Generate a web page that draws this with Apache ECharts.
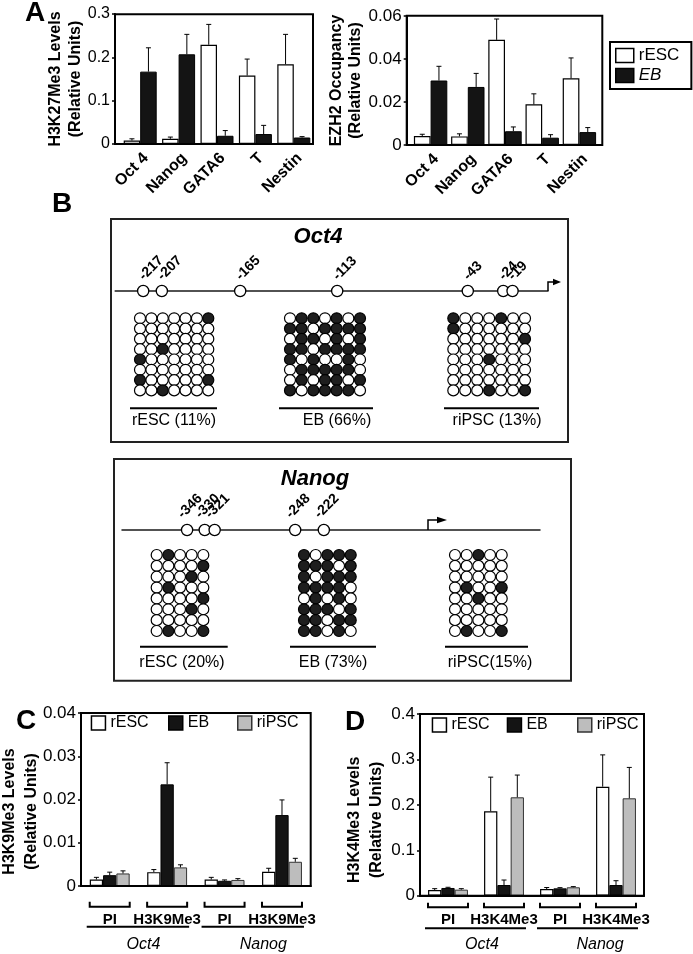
<!DOCTYPE html>
<html>
<head>
<meta charset="utf-8">
<script src="https://cdn.jsdelivr.net/npm/echarts@6/dist/echarts.min.js"></script>
<style>html,body{margin:0;padding:0;background:#fff;}#chart{width:693px;height:954px;}</style>
</head>
<body>
<div id="chart"></div>
<script>
const FONT = "'Liberation Sans', Arial, Helvetica, sans-serif";

// ---------- Panel A ----------
const catsA = ['Oct 4', 'Nanog', 'GATA6', 'T', 'Nestin'];
const ticksA1 = [0, 0.1, 0.2, 0.3];
const h3k27_rESC = [0.008, 0.012, 0.229, 0.158, 0.184];
const h3k27_rESC_err = [0.004, 0.004, 0.047, 0.038, 0.069];
const h3k27_EB = [0.167, 0.207, 0.019, 0.023, 0.015];
const h3k27_EB_err = [0.055, 0.046, 0.012, 0.020, 0.002];
const ticksA2 = [0, 0.02, 0.04, 0.06];
const ezh2_rESC = [0.0042, 0.0040, 0.0489, 0.0189, 0.0310];
const ezh2_rESC_err = [0.0008, 0.0012, 0.0097, 0.0049, 0.0095];
const ezh2_EB = [0.0300, 0.0270, 0.0064, 0.0034, 0.0060];
const ezh2_EB_err = [0.0066, 0.0063, 0.0020, 0.0014, 0.0021];

// ---------- Panel B ----------
const oct4Sites = [-217, -207, -165, -113, -43, -24, -19];
const nanogSites = [-346, -330, -321, -248, -222];
const oct4_rESC = ['0000001','0000000','0000000','0010000','1000000','0000000','1000001','0010000'];
const oct4_EB = ['0110101','1101111','0110101','1101111','1010010','0111110','0101101','1011110'];
const oct4_riPSC = ['1000100','1000000','0000001','0000000','0001000','0000000','0000000','0001001'];
const nanog_rESC = ['01000','00001','00010','01000','00001','00010','00000','01001'];
const nanog_EB = ['10111','11101','10111','11110','01010','11101','11011','11010'];
const nanog_riPSC = ['00100','00000','00000','01001','00100','00000','00000','01001'];

// ---------- Panel C ----------
const catsC = ['PI', 'H3K9Me3', 'PI', 'H3K9Me3'];
const genesCD = ['Oct4', 'Nanog'];
const ticksC = [0, 0.01, 0.02, 0.03, 0.04];
const h3k9_rESC = [0.0015, 0.0032, 0.0015, 0.0033];
const h3k9_rESC_err = [0.0005, 0.0006, 0.0005, 0.0008];
const h3k9_EB = [0.0025, 0.0235, 0.0012, 0.0164];
const h3k9_EB_err = [0.0007, 0.0050, 0.0002, 0.0035];
const h3k9_riPSC = [0.0029, 0.0043, 0.0014, 0.0056];
const h3k9_riPSC_err = [0.0006, 0.0006, 0.0003, 0.0008];

// ---------- Panel D ----------
const catsD = ['PI', 'H3K4Me3', 'PI', 'H3K4Me3'];
const ticksD = [0, 0.1, 0.2, 0.3, 0.4];
const h3k4_rESC = [0.0125, 0.186, 0.0147, 0.240];
const h3k4_rESC_err = [0.0030, 0.075, 0.0033, 0.070];
const h3k4_EB = [0.0170, 0.0235, 0.0162, 0.0235];
const h3k4_EB_err = [0.0015, 0.0110, 0.0015, 0.0095];
const h3k4_riPSC = [0.0133, 0.2166, 0.0185, 0.2144];
const h3k4_riPSC_err = [0.0022, 0.0490, 0.0015, 0.0680];

// ---------- styles ----------
const STY = {
  rESC: {color: '#ffffff', borderColor: '#000', borderWidth: 1.2},
  EB: {color: '#141414', borderColor: '#000', borderWidth: 1},
  riPSC: {color: '#bdbdbd', borderColor: '#333', borderWidth: 1}
};

const chart = echarts.init(document.getElementById('chart'), null, {renderer: 'canvas', width: 693, height: 954});

const grids = [
  {left: 121, top: 14, width: 192, height: 130},        // 0 A left
  {left: 412, top: 16, width: 186, height: 129},        // 1 A right
  {left: 115.2, top: 291, width: 432.8, height: 20},    // 2 Oct4 CpG line
  {left: 140, top: 318.3, width: 68.3, height: 72.1},   // 3
  {left: 290, top: 318.3, width: 70, height: 72.1},     // 4
  {left: 453.3, top: 318.3, width: 71.7, height: 72.1}, // 5
  {left: 122, top: 530, width: 418, height: 20},        // 6 Nanog CpG line
  {left: 156.7, top: 555, width: 46.6, height: 76},     // 7
  {left: 304, top: 555, width: 46.7, height: 76},       // 8
  {left: 455, top: 555, width: 46.7, height: 76},       // 9
  {left: 81, top: 713, width: 229.7, height: 173},      // 10 C
  {left: 420, top: 714, width: 224, height: 181.7}      // 11 D
].map(g => Object.assign({outerBoundsMode: 'none', containLabel: false}, g));

function fmtTick(ticks) {
  return v => ticks.some(t => Math.abs(t - v) < 1e-9) ? (v === 0 ? '0' : String(+v.toFixed(4))) : '';
}
function valY(gi, ticks, name, o) {
  return {
    gridIndex: gi, type: 'value', min: ticks[0], max: ticks[ticks.length - 1], interval: ticks[1] - ticks[0],
    offset: o.offset || 0,
    axisLine: {show: true, onZero: false, lineStyle: {color: '#000', width: 2}},
    axisTick: {show: true, length: 3, lineStyle: {color: '#000', width: 1.5}},
    splitLine: {show: false},
    axisLabel: {fontSize: o.ls, color: '#000', fontFamily: FONT, margin: 5, formatter: fmtTick(ticks)},
    name: name, nameLocation: 'middle', nameRotate: 90, nameGap: o.gap, nameMoveOverlap: false,
    nameTextStyle: {fontSize: 16, fontWeight: 'bold', color: '#000', fontFamily: FONT, lineHeight: o.lh, padding: o.pad || 0}
  };
}
function catX(gi, cats, o) {
  return {
    gridIndex: gi, type: 'category', data: cats.map((c, i) => 'c' + i),
    axisLine: {show: true, onZero: false, lineStyle: {color: '#000', width: 2}},
    axisTick: {show: false}, splitLine: {show: false},
    axisLabel: Object.assign({interval: 0, color: '#000', fontFamily: FONT, formatter: (v, i) => cats[i]}, o)
  };
}
function hidX(gi, min, max, showLine) {
  return {gridIndex: gi, type: 'value', min: min, max: max, position: 'top',
    axisLine: {show: !!showLine, onZero: false, lineStyle: {color: '#1a1a1a', width: 1.5}},
    axisTick: {show: false}, axisLabel: {show: false}, splitLine: {show: false}};
}
function hidY(gi, min, max) {
  return {gridIndex: gi, type: 'value', min: min, max: max, inverse: true, show: false, splitLine: {show: false}};
}

const xAxis = [
  catX(0, catsA, {rotate: 45, fontSize: 16, fontWeight: 'bold', margin: 6, verticalAlign: 'top'}),
  catX(1, catsA, {rotate: 45, fontSize: 16, fontWeight: 'bold', margin: 6, verticalAlign: 'top'}),
  hidX(2, -232, 0, true),
  hidX(3, 0, 6), hidX(4, 0, 6), hidX(5, 0, 6),
  hidX(6, -405, -26, true),
  hidX(7, 0, 4), hidX(8, 0, 4), hidX(9, 0, 4),
  catX(10, catsC, {fontSize: 15, fontWeight: 'bold', margin: 26}),
  catX(11, catsD, {fontSize: 15, fontWeight: 'bold', margin: 17})
];
const yAxis = [
  valY(0, ticksA1, 'H3K27Me3 Levels\n(Relative Units)', {ls: 16, gap: 29, lh: 20, offset: 6}),
  valY(1, ticksA2, 'EZH2 Occupancy\n(Relative Units)', {ls: 17, gap: 42, lh: 19, offset: 5.3}),
  hidY(2, 0, 1),
  hidY(3, 0, 7), hidY(4, 0, 7), hidY(5, 0, 7),
  hidY(6, 0, 1),
  hidY(7, 0, 7), hidY(8, 0, 7), hidY(9, 0, 7),
  valY(10, ticksC, 'H3K9Me3 Levels\n(Relative Units)', {ls: 17, gap: 38, lh: 22, pad: [0, 24, 0, 0]}),
  valY(11, ticksD, 'H3K4Me3 Levels\n(Relative Units)', {ls: 17, gap: 32, lh: 22, pad: [0, 30, 0, 0]})
];

const series = [];
function bars(gi, name, vals, errs, idx, n, bw) {
  series.push({type: 'bar', name: name, xAxisIndex: gi, yAxisIndex: gi, data: vals, barWidth: bw, barGap: '0%',
    itemStyle: STY[name], silent: true, z: 2});
  series.push({type: 'custom', name: name + '_err', xAxisIndex: gi, yAxisIndex: gi, silent: true, z: 4,
    data: vals.map((v, i) => [i, v, v + errs[i]]),
    renderItem: function (params, api) {
      const c = api.coord([api.value(0), api.value(1)]);
      const t = api.coord([api.value(0), api.value(2)]);
      const x = c[0] + (idx - (n - 1) / 2) * bw;
      return {type: 'group', children: [
        {type: 'line', shape: {x1: x, y1: c[1], x2: x, y2: t[1]}, style: {stroke: '#000', lineWidth: 1}},
        {type: 'line', shape: {x1: x - 2.5, y1: t[1], x2: x + 2.5, y2: t[1]}, style: {stroke: '#000', lineWidth: 1}}
      ]};
    }
  });
}
bars(0, 'rESC', h3k27_rESC, h3k27_rESC_err, 0, 2, 16.5);
bars(0, 'EB', h3k27_EB, h3k27_EB_err, 1, 2, 16.5);
bars(1, 'rESC', ezh2_rESC, ezh2_rESC_err, 0, 2, 16.7);
bars(1, 'EB', ezh2_EB, ezh2_EB_err, 1, 2, 16.7);
bars(10, 'rESC', h3k9_rESC, h3k9_rESC_err, 0, 3, 13.3);
bars(10, 'EB', h3k9_EB, h3k9_EB_err, 1, 3, 13.3);
bars(10, 'riPSC', h3k9_riPSC, h3k9_riPSC_err, 2, 3, 13.3);
bars(11, 'rESC', h3k4_rESC, h3k4_rESC_err, 0, 3, 13.3);
bars(11, 'EB', h3k4_EB, h3k4_EB_err, 1, 3, 13.3);
bars(11, 'riPSC', h3k4_riPSC, h3k4_riPSC_err, 2, 3, 13.3);

// CpG sites on promoter line: circle + rotated position label
function cpg(gi, sites, ox, oy) {
  series.push({type: 'custom', xAxisIndex: gi, yAxisIndex: gi, silent: true, z: 5,
    data: sites.map(s => [s, 0]),
    renderItem: function (params, api) {
      const p = api.coord([api.value(0), api.value(1)]);
      return {type: 'group', children: [
        {type: 'circle', shape: {cx: p[0], cy: p[1], r: 5.6}, style: {fill: '#fff', stroke: '#000', lineWidth: 1.3}},
        {type: 'text', x: p[0] + ox, y: p[1] + oy, rotation: Math.PI / 4,
          style: {text: String(api.value(0)), fill: '#000', fontSize: 14, fontWeight: 'bold', fontFamily: FONT,
            align: 'left', verticalAlign: 'bottom'}}
      ]};
    }
  });
}
cpg(2, oct4Sites, 3, -8);
cpg(6, nanogSites, -2, -9);

function meth(gi, rows) {
  const d = [];
  rows.forEach((r, ri) => r.split('').forEach((ch, ci) => {
    d.push({value: [ci, ri], itemStyle: {color: ch === '1' ? '#1e1e1e' : '#ffffff'}});
  }));
  series.push({type: 'scatter', xAxisIndex: gi, yAxisIndex: gi, silent: true, symbol: 'circle', symbolSize: 11,
    itemStyle: {borderColor: '#000', borderWidth: 1.2, opacity: 1}, data: d});
}
meth(3, oct4_rESC); meth(4, oct4_EB); meth(5, oct4_riPSC);
meth(7, nanog_rESC); meth(8, nanog_EB); meth(9, nanog_riPSC);

function legItem(name, extra) {
  return Object.assign({name: name, itemStyle: Object.assign({}, STY[name], {borderWidth: 1.5})}, extra || {});
}
function singleLeg(name, left, top) {
  return {show: true, left: left, top: top, padding: 0, itemWidth: 14, itemHeight: 14, icon: 'rect', selectedMode: false,
    textStyle: {fontSize: 16, color: '#000', fontFamily: FONT}, data: [legItem(name)]};
}
const legend = [
  {show: true, orient: 'vertical', left: 610, top: 42, padding: [5, 12, 5, 5], itemGap: 3, itemWidth: 18, itemHeight: 14,
    icon: 'rect', borderColor: '#000', borderWidth: 2, selectedMode: false,
    textStyle: {fontSize: 17, color: '#000', fontFamily: FONT},
    data: [legItem('rESC'), legItem('EB', {textStyle: {fontStyle: 'italic'}})]},
  singleLeg('rESC', 90.7, 715), singleLeg('EB', 168, 715), singleLeg('riPSC', 237, 715),
  singleLeg('rESC', 431.7, 717), singleLeg('EB', 506.7, 717), singleLeg('riPSC', 577, 717)
];

chart.setOption({animation: false, backgroundColor: '#fff', textStyle: {fontFamily: FONT},
  grid: grids, xAxis: xAxis, yAxis: yAxis, series: series, legend: legend});

// ---------- decorations ----------
const G = [];
function L(x1, y1, x2, y2, w, c) { G.push({type: 'line', silent: true, z: 100, shape: {x1, y1, x2, y2}, style: {stroke: c || '#000', lineWidth: w || 2}}); }
function R(x, y, w, h, lw, c) { G.push({type: 'rect', silent: true, z: 100, shape: {x, y, width: w, height: h}, style: {fill: 'none', stroke: c || '#000', lineWidth: lw || 2}}); }
function T(x, y, s, size, weight, style, align) {
  G.push({type: 'text', silent: true, z: 100, x: x, y: y, style: {text: s, fill: '#000', fontSize: size, fontWeight: weight || 'normal',
    fontStyle: style || 'normal', fontFamily: FONT, align: align || 'center', verticalAlign: 'middle', textAlign: align || 'center', textVerticalAlign: 'middle'}});
}
function PL(pts, w) { G.push({type: 'polyline', silent: true, z: 100, shape: {points: pts}, style: {stroke: '#000', fill: 'none', lineWidth: w || 2}}); }
function PG(pts) { G.push({type: 'polygon', silent: true, z: 100, shape: {points: pts}, style: {fill: '#000'}}); }

// panel frames
R(115, 14.3, 198, 129.7); R(406.7, 15.7, 195.6, 129.3); R(81, 713, 229.7, 173); R(420, 714, 224, 181.7);
// panel letters
T(35, 13, 'A', 28, 'bold'); T(62, 204, 'B', 28, 'bold'); T(26, 721, 'C', 28, 'bold'); T(355, 722, 'D', 28, 'bold');

// panel B boxes
R(111, 219, 457, 223, 2, '#222');
R(114, 459, 457, 221.7, 2, '#222');
T(318, 237, 'Oct4', 22, 'bold', 'italic');
T(315, 479, 'Nanog', 22, 'bold', 'italic');

function pct(rows) {
  const all = rows.join('');
  return Math.round(100 * all.split('').filter(c => c === '1').length / all.length);
}
// Oct4 sample labels
L(130, 408.3, 217, 408.3, 2); L(279, 408.3, 373, 408.3, 2); L(444, 408.3, 539, 408.3, 2);
T(174, 421, 'rESC (' + pct(oct4_rESC) + '%)', 16);
T(337, 421, 'EB (' + pct(oct4_EB) + '%)', 16);
T(497, 421, 'riPSC (' + pct(oct4_riPSC) + '%)', 16);
// Nanog sample labels
L(140, 646.7, 227.7, 646.7, 2); L(290, 646.7, 376, 646.7, 2); L(445, 646.7, 528, 646.7, 2);
T(182, 663, 'rESC (' + pct(nanog_rESC) + '%)', 16);
T(333, 663, 'EB (' + pct(nanog_EB) + '%)', 16);
T(490, 663, 'riPSC(' + pct(nanog_riPSC) + '%)', 16);

// TSS arrows
const tss = chart.convertToPixel({gridIndex: 2}, [0, 0]);
PL([[tss[0], tss[1]], [tss[0], tss[1] - 9], [tss[0] + 6, tss[1] - 9]], 1.5);
PG([[tss[0] + 5, tss[1] - 12.3], [tss[0] + 13, tss[1] - 9], [tss[0] + 5, tss[1] - 5.7]]);
const ny = chart.convertToPixel({gridIndex: 6}, [-300, 0])[1];
PL([[428, ny], [428, ny - 10], [438, ny - 10]], 1.5);
PG([[437, ny - 13.3], [447, ny - 10], [437, ny - 6.7]]);

// C / D brackets
function brackets(gi, yTick, yBar, yGene, yLabel, half, shifts) {
  const cx = [0, 1, 2, 3].map(i => chart.convertToPixel({gridIndex: gi}, [i, 0])[0]);
  cx.forEach(c => PL([[c - half, yTick], [c - half, yBar], [c + half, yBar], [c + half, yTick]], 2));
  [[0, 1], [2, 3]].forEach((p, k) => {
    L(cx[p[0]] - half - 3, yGene, cx[p[1]] + half + 2, yGene, 2);
    T((cx[p[0]] + cx[p[1]]) / 2 + shifts[k], yLabel, genesCD[k], 16, 'normal', 'italic');
  });
}
brackets(10, 901.7, 906.7, 926.7, 945, 20, [5, 10]);
brackets(11, 902.7, 907.3, 928.3, 945, 20, [6, 12]);

chart.setOption({graphic: {elements: G}});
</script>
</body>
</html>
